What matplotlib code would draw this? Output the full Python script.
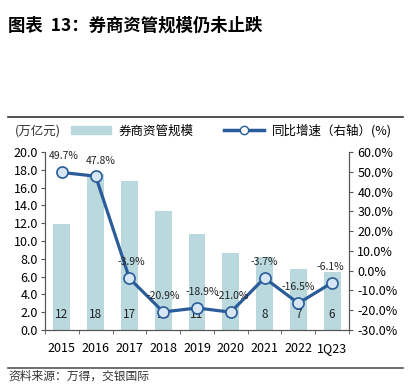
import matplotlib.pyplot as plt
from matplotlib.lines import Line2D
from matplotlib.patches import Patch

plt.rcParams['font.family'] = ['Noto Sans CJK SC', 'DejaVu Sans']

# ---------------------------------------------------------------------------
# data
# ---------------------------------------------------------------------------
years = ["2015", "2016", "2017", "2018", "2019", "2020", "2021", "2022", "1Q23"]
aum = [11.9, 17.5, 16.8, 13.4, 10.8, 8.6, 8.2, 6.9, 6.5]        # 万亿元
aum_labels = ["12", "18", "17", "13", "11", "9", "8", "7", "6"]
yoy = [49.7, 47.8, -3.9, -20.9, -18.9, -21.0, -3.7, -16.5, -6.1]  # %

bar_color = "#B9D9DE"
line_color = "#2A5C99"

fig = plt.figure(figsize=(4.13, 3.90), dpi=100)
ax = fig.add_axes([0.109, 0.154, 0.736, 0.456])
ax2 = ax.twinx()

x = list(range(len(years)))
ax.bar(x, aum, width=0.5, color=bar_color, zorder=1)
ax.set_ylim(0, 20)
ax.set_yticks([i * 2 for i in range(11)])
ax.set_yticklabels([f"{i * 2:.1f}" for i in range(11)], fontsize=9)
ax.set_xlim(-0.5, len(years) - 0.5)
ax.set_xticks(x)
ax.set_xticklabels(years, fontsize=9)
ax.set_xticks([i - 0.5 for i in range(len(years) + 1)], minor=True)
ax.tick_params(axis="x", which="major", length=0, pad=9)
ax.tick_params(axis="x", which="minor", length=3, color="#555555")
ax.tick_params(axis="y", length=3, color="#555555", pad=2)

for xi, lab in zip(x, aum_labels):
    ax.text(xi, 1.7, lab, ha="center", va="center", fontsize=8.5, color="#222222", zorder=5)

ax2.plot(x, yoy, color=line_color, lw=2.3, marker="o", markersize=8,
         markerfacecolor="#D6E6F5", markeredgecolor=line_color, markeredgewidth=1.2, zorder=4)
ax2.set_ylim(-30, 60)
ax2.set_yticks(range(-30, 61, 10))
ax2.set_yticklabels([f"{v:.1f}%" for v in range(-30, 61, 10)], fontsize=9)
ax2.tick_params(axis="y", length=3, color="#555555", pad=3)

# label offsets (x in categories, y in %)
offsets = [(0.05, 6), (0.15, 5), (0.05, 5.5), (0.0, 5.5), (0.15, 5.5), (0.05, 5.5), (0.0, 5.5), (0.0, 5.5), (-0.05, 5.5)]
for xi, v, (dx, dy) in zip(x, yoy, offsets):
    ax2.text(xi + dx, v + dy, f"{v:.1f}%", ha="center", va="bottom", fontsize=7.5, color="#222222", zorder=6)

for a in (ax, ax2):
    a.spines["top"].set_visible(False)
    a.spines["left"].set_color("#555555")
    a.spines["right"].set_color("#555555")
    a.spines["bottom"].set_color("#555555")

# legend and axis unit
fig.text(0.035, 0.665, "(万亿元)", fontsize=9, color="#333333", va="center")
handles = [Patch(color=bar_color),
           Line2D([0], [0], color=line_color, lw=2.5, marker="o", markersize=6,
                  markerfacecolor="white", markeredgecolor=line_color)]
fig.legend(handles, ["券商资管规模", "同比增速（右轴）(%)"], loc="center", bbox_to_anchor=(0.56, 0.665),
           ncol=2, frameon=False, fontsize=9, handlelength=3.2, columnspacing=2.5, handletextpad=0.6)

# title and frame lines
fig.text(0.02, 0.935, "图表  13：券商资管规模仍未止跌", fontsize=12.5, fontweight="bold", va="center")
fig.add_artist(Line2D([0.02, 0.975], [0.70, 0.70], color="#333333", lw=1.2))
fig.add_artist(Line2D([0.02, 0.975], [0.056, 0.056], color="#555555", lw=1.2))
fig.text(0.02, 0.036, "资料来源：万得，交银国际", fontsize=8.5, style="italic", color="#333333", va="center")

fig.savefig("out.png", dpi=100)
